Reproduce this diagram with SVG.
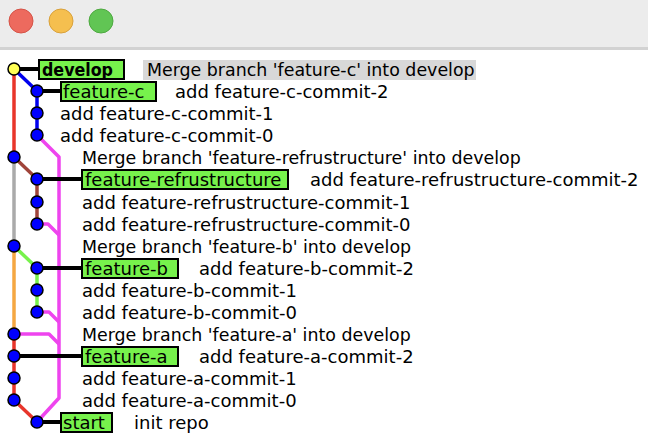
<svg xmlns="http://www.w3.org/2000/svg" width="648" height="444" viewBox="0 0 648 444">
<style>
text{font-family:"DejaVu Sans","Liberation Sans",sans-serif;font-size:18px;fill:#000}
.m{font-size:17.4px}
.b{font-weight:bold}
.lbl{fill:#77f24c;stroke:#000;stroke-width:2}
.ln{fill:none;stroke-width:3.5;stroke-linejoin:round}
.stem{stroke:#000;stroke-width:4}
.n{fill:#0000ff;stroke:#000;stroke-width:1.5}
</style>
<rect x="0" y="0" width="648" height="444" fill="#fff"/>
<g id="titlebar">
<rect x="0" y="0" width="648" height="48" fill="#ececec"/>
<rect x="0" y="47" width="648" height="3" fill="#d2d2d2"/>
<circle cx="21" cy="21" r="12" fill="#ed6a5e" stroke="#d55347" stroke-width="1"/>
<circle cx="61" cy="21" r="12" fill="#f5bf4f" stroke="#d9a13b" stroke-width="1"/>
<circle cx="101" cy="21" r="12" fill="#61c554" stroke="#4ea941" stroke-width="1"/>
</g>
<g id="connectors">
<polyline class="ln" stroke="#e8352b" points="14,69 14,157"/>
<polyline class="ln" stroke="#aaaaaa" points="14,157 14,246"/>
<polyline class="ln" stroke="#f5a742" points="14,246 14,334"/>
<polyline class="ln" stroke="#e8352b" points="14,334 14,400 37,422"/>
<polyline class="ln" stroke="#0000ee" points="14,69 37,91 37,135"/>
<polyline class="ln" stroke="#a0443a" points="14,157 37,179 37,224"/>
<polyline class="ln" stroke="#77f24c" points="14,246 37,268 37,312"/>
<polyline class="ln" stroke="#ee44ee" points="37,135 59,157 59,398 37,422"/>
<polyline class="ln" stroke="#ee44ee" points="37,224 48,224 59,235"/>
<polyline class="ln" stroke="#ee44ee" points="37,312 49,312 59,322"/>
<polyline class="ln" stroke="#ee44ee" points="14,334 49,334 59,344"/>
<line class="stem" x1="14" y1="69" x2="38" y2="69"/>
<line class="stem" x1="37" y1="91" x2="60" y2="91"/>
<line class="stem" x1="37" y1="179" x2="82" y2="179"/>
<line class="stem" x1="37" y1="268" x2="82" y2="268"/>
<line class="stem" x1="14" y1="356" x2="82" y2="356"/>
<line class="stem" x1="37" y1="422" x2="60" y2="422"/>
</g>
<g id="c0"><circle cx="14" cy="69" r="6" fill="#ffff55" stroke="#000" stroke-width="1.5"/>
<rect class="lbl" x="39" y="60" width="85" height="19"/><text class="b" x="42" y="76" textLength="71" lengthAdjust="spacingAndGlyphs">develop</text>
<rect x="143" y="60" width="333" height="20" fill="#d8d8d8"/><text class="m" x="147" y="76">Merge branch 'feature-c' into develop</text></g>
<g id="c1"><circle class="n" cx="37" cy="91" r="6"/>
<rect class="lbl" x="61" y="82" width="95" height="19"/><text x="63" y="98">feature-c</text>
<text x="175" y="98">add feature-c-commit-2</text></g>
<g id="c2"><circle class="n" cx="37" cy="113" r="6"/><text x="60" y="120">add feature-c-commit-1</text></g>
<g id="c3"><circle class="n" cx="37" cy="135" r="6"/><text x="60" y="142">add feature-c-commit-0</text></g>
<g id="c4"><circle class="n" cx="14" cy="157" r="6"/><text class="m" x="82" y="164">Merge branch 'feature-refrustructure' into develop</text></g>
<g id="c5"><circle class="n" cx="37" cy="179" r="6"/>
<rect class="lbl" x="82" y="170" width="206" height="19"/><text x="85" y="186">feature-refrustructure</text>
<text x="310" y="186">add feature-refrustructure-commit-2</text></g>
<g id="c6"><circle class="n" cx="37" cy="202" r="6"/><text x="82" y="209">add feature-refrustructure-commit-1</text></g>
<g id="c7"><circle class="n" cx="37" cy="224" r="6"/><text x="82" y="231">add feature-refrustructure-commit-0</text></g>
<g id="c8"><circle class="n" cx="14" cy="246" r="6"/><text class="m" x="82" y="253">Merge branch 'feature-b' into develop</text></g>
<g id="c9"><circle class="n" cx="37" cy="268" r="6"/>
<rect class="lbl" x="82" y="259" width="96" height="19"/><text x="85" y="275">feature-b</text>
<text x="199" y="275">add feature-b-commit-2</text></g>
<g id="c10"><circle class="n" cx="37" cy="290" r="6"/><text x="82" y="297">add feature-b-commit-1</text></g>
<g id="c11"><circle class="n" cx="37" cy="312" r="6"/><text x="82" y="319">add feature-b-commit-0</text></g>
<g id="c12"><circle class="n" cx="14" cy="334" r="6"/><text class="m" x="82" y="341">Merge branch 'feature-a' into develop</text></g>
<g id="c13"><circle class="n" cx="14" cy="356" r="6"/>
<rect class="lbl" x="82" y="347" width="96" height="19"/><text x="85" y="363">feature-a</text>
<text x="199" y="363">add feature-a-commit-2</text></g>
<g id="c14"><circle class="n" cx="14" cy="378" r="6"/><text x="82" y="385">add feature-a-commit-1</text></g>
<g id="c15"><circle class="n" cx="14" cy="400" r="6"/><text x="82" y="407">add feature-a-commit-0</text></g>
<g id="c16"><circle class="n" cx="37" cy="422" r="6"/>
<rect class="lbl" x="61" y="413" width="51" height="19"/><text x="63" y="429">start</text>
<text x="134" y="429">init repo</text></g>
</svg>
